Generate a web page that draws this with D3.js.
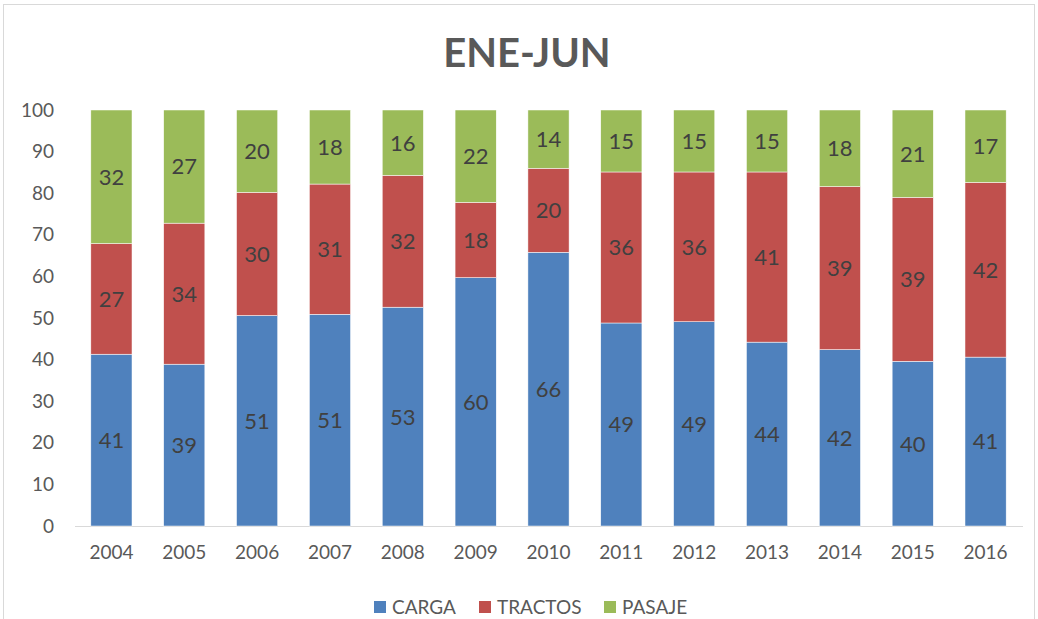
<!DOCTYPE html>
<html lang="es">
  <head>
    <meta charset="UTF-8" />
    <title>ENE-JUN</title>
    <style>
      body { margin: 0; background: #fff; font-family: Lato, "Open Sans", sans-serif; }
      svg { display: block; }
    </style>
    <script src="https://d3js.org/d3.v7.min.js"></script>
  </head>
  <body>
  <script>
    const years = ["2004","2005","2006","2007","2008","2009","2010","2011","2012","2013","2014","2015","2016"];
    const carga   = [41.3, 38.9, 50.6, 50.9, 52.6, 59.7, 65.8, 48.8, 49.1, 44.2, 42.4, 39.6, 40.6];
    const tractos = [26.6, 33.9, 29.6, 31.3, 31.7, 18.1, 20.2, 36.3, 36.0, 40.9, 39.2, 39.4, 42.0];
    const pasaje  = [32.1, 27.2, 19.8, 17.8, 15.7, 22.2, 14.0, 14.9, 14.9, 14.9, 18.4, 21.0, 17.4];
    const yTicks  = [0, 10, 20, 30, 40, 50, 60, 70, 80, 90, 100];
    const seriesNames = ["CARGA", "TRACTOS", "PASAJE"];
    const colors = ["#4F81BD", "#C0504D", "#9BBB59"];

    const W = 1038, H = 619;
    const svg = d3.select("body").append("svg").attr("width", W).attr("height", H);

    // outer chart border
    svg.append("rect")
      .attr("x", 3.5).attr("y", 4.5).attr("width", 1031).attr("height", 630)
      .attr("fill", "none").attr("stroke", "#d9d9d9");

    svg.append("text")
      .attr("x", 527).attr("y", 67)
      .attr("text-anchor", "middle")
      .attr("font-size", 40).attr("font-weight", "bold")
      .attr("fill", "#595959")
      .text("ENE-JUN");

    const rows = years.map((y, i) => ({ year: y, CARGA: carga[i], TRACTOS: tractos[i], PASAJE: pasaje[i] }));
    const stacked = d3.stack().keys(seriesNames)(rows);

    const x = d3.scaleBand().domain(years).range([75, 1022]).paddingInner(0.435).paddingOuter(0.2175);
    const y = d3.scaleLinear().domain([0, 100]).range([526, 110]);

    // y axis labels
    const yAxis = svg.append("g")
      .attr("transform", "translate(62,0)")
      .call(d3.axisLeft(y).tickValues(yTicks).tickSize(0).tickPadding(8));
    yAxis.select(".domain").remove();
    yAxis.selectAll("text")
      .attr("font-family", "Lato, 'Open Sans', sans-serif")
      .attr("font-size", 19).attr("fill", "#595959");

    // x axis
    const xAxis = svg.append("g")
      .attr("transform", "translate(0,526)")
      .call(d3.axisBottom(x).tickSize(0).tickPadding(20));
    xAxis.select(".domain").attr("stroke", "#d9d9d9").attr("d", "M75,0.5H1023");
    xAxis.selectAll("text")
      .attr("font-family", "Lato, 'Open Sans', sans-serif")
      .attr("font-size", 19).attr("fill", "#595959");

    const layers = svg.append("g").selectAll("g")
      .data(stacked).enter().append("g")
      .attr("fill", (d, i) => colors[i]);

    layers.selectAll("rect")
      .data(d => d).enter().append("rect")
      .attr("x", d => x(d.data.year))
      .attr("width", x.bandwidth())
      .attr("y", d => y(d[1]))
      .attr("height", d => y(d[0]) - y(d[1]))
      .attr("stroke", "#fff").attr("stroke-width", 0.5);

    layers.selectAll("text")
      .data(d => d).enter().append("text")
      .attr("x", d => x(d.data.year) + x.bandwidth() / 2)
      .attr("y", d => (y(d[0]) + y(d[1])) / 2)
      .attr("dy", "0.36em")
      .attr("text-anchor", "middle")
      .attr("font-size", 22).attr("fill", "#404040")
      .text(d => d3.format(".0f")(d[1] - d[0]));

    // legend
    const legendX = [374, 479, 604];
    const legend = svg.append("g").selectAll("g")
      .data(seriesNames).enter().append("g")
      .attr("transform", (d, i) => `translate(${legendX[i]},601)`);
    legend.append("rect").attr("width", 12).attr("height", 12).attr("fill", (d, i) => colors[i]);
    legend.append("text")
      .attr("x", 18).attr("y", 6).attr("dy", "0.36em")
      .attr("font-size", 19).attr("fill", "#595959")
      .text(d => d);
  </script>
  </body>
</html>
